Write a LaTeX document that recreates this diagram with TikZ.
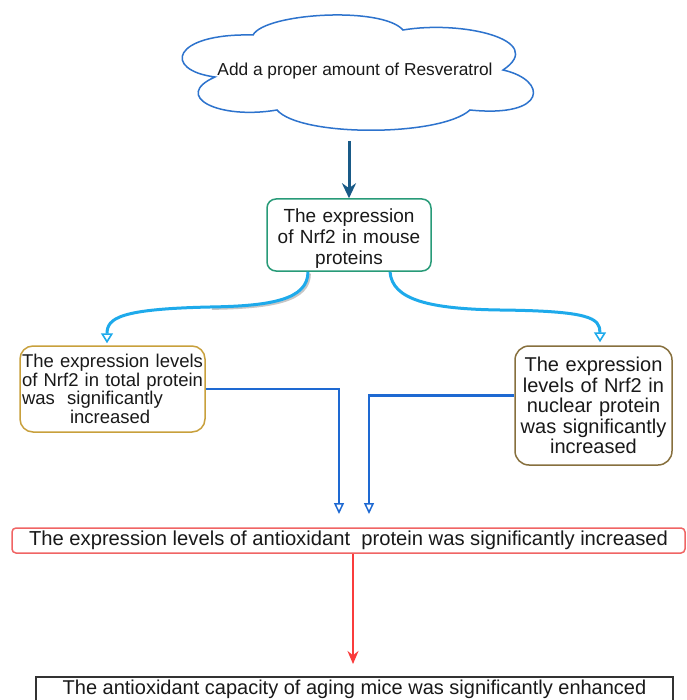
\documentclass[tikz,border=0pt]{standalone}
\usepackage{fontspec}
\setmainfont{Liberation Sans}
\usetikzlibrary{arrows.meta,calc}
\definecolor{cloudblue}{RGB}{45,115,205}
\definecolor{darkteal}{RGB}{25,90,135}
\definecolor{greenborder}{RGB}{40,155,120}
\definecolor{cyanline}{RGB}{30,170,235}
\definecolor{goldborder}{RGB}{200,160,60}
\definecolor{oliveborder}{RGB}{135,112,62}
\definecolor{elbowblue}{RGB}{30,105,210}
\definecolor{redline}{RGB}{250,60,60}
\definecolor{redborder}{RGB}{240,100,100}
\definecolor{textgray}{RGB}{25,25,25}
\begin{document}
\begin{tikzpicture}[x=1pt,y=-1pt,
  textbox/.style={inner sep=0pt, text=textgray},
  framebox/.style={draw, line width=1.5pt, inner sep=0pt, text=textgray, align=center},
  cyanarrow/.style={draw=cyanline, line width=3pt, -{Triangle[open,length=10pt,width=12pt,line width=1.6pt]}},
  elbowarrow/.style={draw=elbowblue, line width=2.4pt, -{Triangle[open,length=11pt,width=10pt,line width=1.5pt]}},
  shadowline/.style={draw=gray!45, line width=2.2pt}
]
\clip (0,0) rectangle (686,700);
\fill[white] (0,0) rectangle (686,700);

% cloud
\draw[cloudblue, line width=1.5pt, fill=white]
  (253,35) .. controls (265,13) and (382,6) .. (403,30)
  .. controls (462,20) and (548,40) .. (503,70)
  .. controls (548,80) and (548,118) .. (470,110)
  .. controls (440,137) and (300,137) .. (277,110)
  .. controls (218,120) and (172,96) .. (215,77)
  .. controls (162,70) and (172,33) .. (253,35) -- cycle;
\node[textbox, font=\fontsize{17.3}{19}\selectfont] (cloud) at (355,71) {Add a proper amount of Resveratrol};

% boxes
\node[framebox, draw=greenborder, rounded corners=9pt, minimum width=164pt, minimum height=72pt, text width=160pt,
  font=\fontsize{19}{21}\selectfont] (green) at (349,235) {\rule{0pt}{20pt}The expression\\of Nrf2 in mouse\\proteins};

\node[framebox, draw=goldborder, rounded corners=13pt, minimum width=185pt, minimum height=86pt, text width=181pt, align=left,
  font=\fontsize{18.5}{18.5}\selectfont] (left) at (112.5,389)
  {The expression levels\\of Nrf2 in total protein\\was~ significantly\\\hspace*{48pt}increased};

\node[framebox, draw=oliveborder, rounded corners=14pt, minimum width=157pt, minimum height=119pt, text width=153pt,
  font=\fontsize{20}{20.5}\selectfont] (right) at (593.5,405.5)
  {The expression\\levels of Nrf2 in\\nuclear protein\\was significantly\\increased};

\node[framebox, draw=redborder, rounded corners=4pt, minimum width=673pt, minimum height=25pt,
  font=\fontsize{20.2}{22}\selectfont] (red) at (348.5,540.5)
  {The expression levels of antioxidant~ protein was significantly increased};

\node[framebox, draw=black!80, line width=1.2pt, minimum width=637pt, minimum height=25pt,
  font=\fontsize{20}{22}\selectfont] (bottom) at (354.5,689.5)
  {The antioxidant capacity of aging mice was significantly enhanced};

% coordinates
\coordinate (ctop) at (349,141);
\coordinate (ls) at ($(green.south)+(-41,0)$);
\coordinate (rsc) at ($(green.south)+(41,0)$);
\coordinate (t1) at (339,514);
\coordinate (t2) at (369,514);
\coordinate (rs) at ($(red.south)+(4.5,0)$);
\coordinate (rend) at (353,664);

% top arrow
\draw[darkteal, line width=3pt, -{Stealth[length=15pt,width=14pt]}] (ctop) -- (green.north);

% cyan curves
\draw[shadowline, transform canvas={shift={(1.8pt,-1.8pt)}}]
  (ls) .. controls (308,300) and (270,306) .. (210,307);
\draw[cyanarrow] (ls) .. controls (308,300) and (270,306) .. (210,307)
  .. controls (120,309) and (107,318) .. ($(left.north)+(-5.5,-2)$);
\draw[cyanarrow] (rsc) .. controls (392,300) and (430,309) .. (500,310)
  .. controls (590,311) and (600,318) .. ($(right.north)+(6.5,-3)$);

% elbow arrows
\draw[elbowarrow] (left.east) -| (t1);
\draw[elbowarrow] ($(right.west)+(0,-10)$) -| (t2);

% red arrow
\draw[redline, line width=1.4pt, -{Stealth[length=13pt,width=11pt]}] (rs) -- (rend);
\end{tikzpicture}
\end{document}
